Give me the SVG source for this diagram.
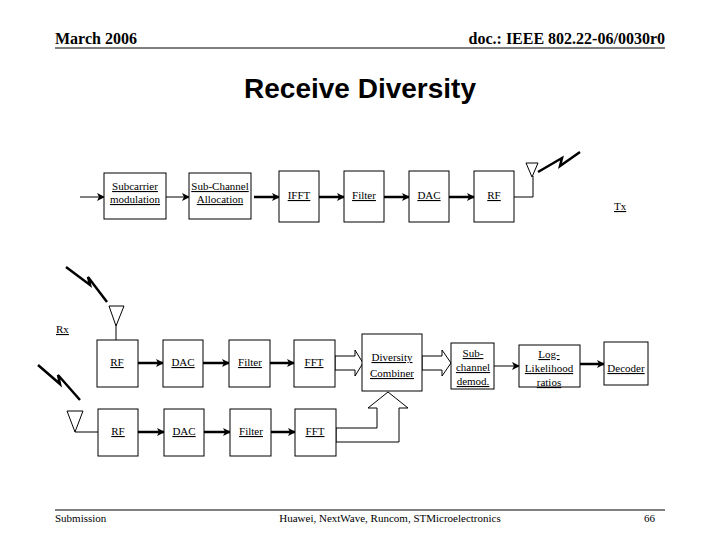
<svg xmlns="http://www.w3.org/2000/svg" width="720" height="540" viewBox="0 0 720 540">
<defs>
<marker id="ah" markerWidth="8" markerHeight="8" refX="7" refY="4" orient="auto" markerUnits="userSpaceOnUse"><path d="M0,0 L8,4 L0,8 L2,4 z" fill="#000"/></marker>
</defs>
<style>
.b{fill:#fff;stroke:#000;stroke-width:1}
.t{font-family:"Liberation Serif",serif;font-size:11px;text-decoration:underline;text-anchor:middle}
.c{stroke:#000;fill:none}
.th{stroke-width:2.5}
.h{fill:#fff;stroke:#000}
</style>
<rect width="720" height="540" fill="#fff"/>
<text x="55" y="44" font-family="Liberation Serif,serif" font-size="16" font-weight="bold">March 2006</text>
<text x="665" y="44" font-family="Liberation Serif,serif" font-size="16" font-weight="bold" text-anchor="end">doc.: IEEE 802.22-06/0030r0</text>
<line x1="55" y1="48" x2="665" y2="48" stroke="#000"/>
<text x="360" y="98" font-family="Liberation Sans,sans-serif" font-size="28" font-weight="bold" text-anchor="middle">Receive Diversity</text>
<line x1="55" y1="510" x2="665" y2="510" stroke="#000"/>
<text x="55" y="522" font-family="Liberation Serif,serif" font-size="11">Submission</text>
<text x="390" y="522" font-family="Liberation Serif,serif" font-size="11" text-anchor="middle">Huawei, NextWave, Runcom, STMicroelectronics</text>
<text x="655" y="522" font-family="Liberation Serif,serif" font-size="11" text-anchor="end">66</text>

<g id="connectors">
<line class="c" x1="80" y1="197" x2="104" y2="197" marker-end="url(#ah)"/>
<line class="c" x1="166" y1="197" x2="189" y2="197" marker-end="url(#ah)"/>
<line class="c th" x1="254" y1="197" x2="279" y2="197" marker-end="url(#ah)"/>
<line class="c th" x1="319" y1="197" x2="344" y2="197" marker-end="url(#ah)"/>
<line class="c th" x1="384" y1="197" x2="409" y2="197" marker-end="url(#ah)"/>
<line class="c th" x1="449" y1="197" x2="474" y2="197" marker-end="url(#ah)"/>
<polyline class="c" points="514,197 533,197 533,176"/>
<line class="c th" x1="138" y1="363" x2="163" y2="363" marker-end="url(#ah)"/>
<line class="c th" x1="203" y1="363" x2="229" y2="363" marker-end="url(#ah)"/>
<line class="c th" x1="270" y1="363" x2="294" y2="363" marker-end="url(#ah)"/>
<line class="c th" x1="138" y1="432" x2="164" y2="432" marker-end="url(#ah)"/>
<line class="c th" x1="204" y1="432" x2="230" y2="432" marker-end="url(#ah)"/>
<line class="c th" x1="271" y1="432" x2="295" y2="432" marker-end="url(#ah)"/>
<line class="c" x1="116" y1="326" x2="116" y2="340"/>
<line class="c" x1="75" y1="432" x2="98" y2="432"/>
<polygon class="h" points="335,356 355,356 355,350 363,363 355,376 355,370 335,370"/>
<polygon class="h" points="422,356 442,356 442,350 451,363 442,376 442,370 422,370"/>
<polygon class="h" points="336,428 377,428 377,408 368,408 388,392 408,408 399,408 399,442 336,442"/>
<line class="c" x1="494" y1="366" x2="519" y2="366" marker-end="url(#ah)"/>
<line class="c th" x1="580" y1="364" x2="604" y2="364" marker-end="url(#ah)"/>
</g>

<g id="antennas">
<polygon class="h" points="526,163 538,163 532,177"/>
<polyline points="538,172 562,158 560,166 580,152" fill="none" stroke="#000" stroke-width="2.5"/>
<polygon class="h" points="109,306 124,306 116,326"/>
<polyline points="66,267 90,285 88,277 107,302" fill="none" stroke="#000" stroke-width="2.5"/>
<polygon class="h" points="67,411 83,411 75,432"/>
<polyline points="38,365 60,384 58,375 80,400" fill="none" stroke="#000" stroke-width="2.5"/>
<text x="614" y="210" font-family="Liberation Serif,serif" font-size="11" text-decoration="underline">Tx</text>
<text x="56" y="333" font-family="Liberation Serif,serif" font-size="11" text-decoration="underline">Rx</text>
</g>

<g id="subcarrier"><rect class="b" x="104" y="173" width="62" height="46"/><text class="t" x="135" y="190">Subcarrier</text><text class="t" x="135" y="203">modulation</text></g>
<g id="subchannel"><rect class="b" x="189" y="173" width="62" height="46"/><text class="t" x="220" y="190">Sub-Channel</text><text class="t" x="220" y="203">Allocation</text></g>
<g id="ifft"><rect class="b" x="279" y="171" width="40" height="51"/><text class="t" x="299" y="199">IFFT</text></g>
<g id="filter-tx"><rect class="b" x="344" y="171" width="40" height="51"/><text class="t" x="364" y="199">Filter</text></g>
<g id="dac-tx"><rect class="b" x="409" y="171" width="40" height="51"/><text class="t" x="429" y="199">DAC</text></g>
<g id="rf-tx"><rect class="b" x="474" y="171" width="40" height="51"/><text class="t" x="494" y="199">RF</text></g>

<g id="rf1"><rect class="b" x="97" y="340" width="41" height="47"/><text class="t" x="117" y="366">RF</text></g>
<g id="dac1"><rect class="b" x="163" y="340" width="40" height="47"/><text class="t" x="183" y="366">DAC</text></g>
<g id="filter1"><rect class="b" x="229" y="340" width="41" height="47"/><text class="t" x="250" y="366">Filter</text></g>
<g id="fft1"><rect class="b" x="294" y="340" width="41" height="47"/><text class="t" x="314" y="366">FFT</text></g>
<g id="rf2"><rect class="b" x="98" y="409" width="40" height="47"/><text class="t" x="118" y="435">RF</text></g>
<g id="dac2"><rect class="b" x="164" y="409" width="40" height="47"/><text class="t" x="184" y="435">DAC</text></g>
<g id="filter2"><rect class="b" x="230" y="409" width="41" height="47"/><text class="t" x="251" y="435">Filter</text></g>
<g id="fft2"><rect class="b" x="295" y="409" width="41" height="47"/><text class="t" x="315" y="435">FFT</text></g>
<g id="combiner"><rect class="b" x="362" y="334" width="60" height="57"/><text class="t" x="392" y="361">Diversity</text><text class="t" x="392" y="377">Combiner</text></g>
<g id="demod"><rect class="b" x="451" y="343" width="43" height="46"/><text class="t" x="473" y="357">Sub-</text><text class="t" x="473" y="371">channel</text><text class="t" x="473" y="385">demod.</text></g>
<g id="llr"><rect class="b" x="519" y="345" width="61" height="42"/><text class="t" x="549" y="358">Log-</text><text class="t" x="549" y="372">Likelihood</text><text class="t" x="549" y="386">ratios</text></g>
<g id="decoder"><rect class="b" x="604" y="342" width="44" height="43"/><text class="t" x="626" y="372">Decoder</text></g>
</svg>
